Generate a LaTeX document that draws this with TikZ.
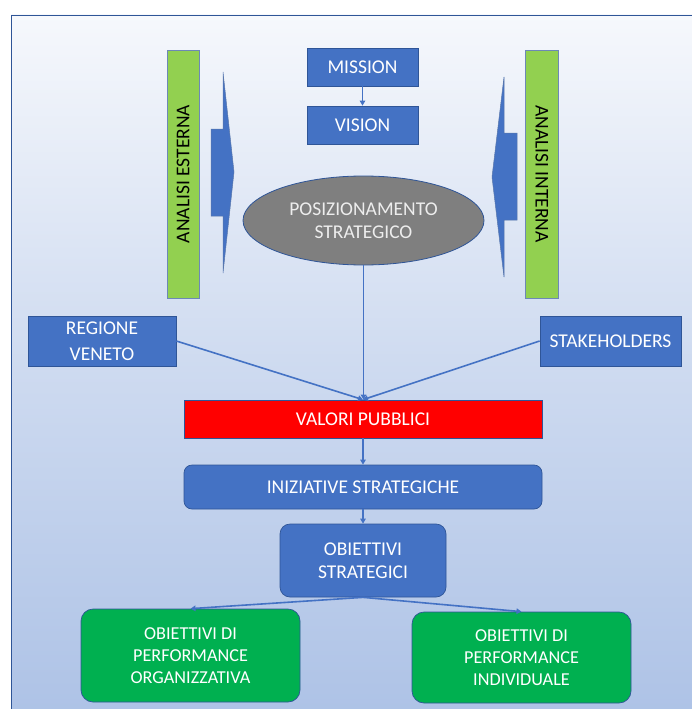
\documentclass[tikz,border=0pt]{standalone}
\usepackage{fontspec}
\setmainfont{Carlito}
\usetikzlibrary{arrows.meta,shapes.geometric}
\definecolor{bluebox}{HTML}{4472C4}
\definecolor{blueedge}{HTML}{2F5597}
\definecolor{greenbar}{HTML}{92D050}
\definecolor{greenbox}{HTML}{00B050}
\definecolor{grayell}{HTML}{7F7F7F}
\definecolor{elltext}{HTML}{EDEDED}
\definecolor{bgtop}{HTML}{F6F8FC}
\definecolor{bgbot}{HTML}{ADC2E6}
\definecolor{redbox}{HTML}{FF0000}

\begin{document}
\begin{tikzpicture}[x=1pt,y=-1pt,
  txt/.style={font=\fontsize{19.5}{26}\selectfont, align=center, inner sep=0pt},
  bluerect/.style={txt, draw=blueedge, line width=0.7pt, fill=bluebox, text=white},
  roundblue/.style={bluerect, rounded corners=8pt},
  bar/.style={txt, draw=blueedge!70, line width=0.7pt, fill=greenbar, text=black,
    minimum width=248pt, minimum height=32pt},
  greenrb/.style={txt, font=\fontsize{18.2}{22}\selectfont, draw=blueedge, line width=0.7pt,
    fill=greenbox, text=white, rounded corners=12pt, minimum width=219pt},
  blockarrow/.style={fill=bluebox, draw=blueedge!80, line width=0.5pt},
  conn/.style={draw=bluebox, line width=1.6pt, -{Triangle[length=5pt,width=5.5pt]}}
]
\useasboundingbox (0,0) rectangle (691,709);

% background panel with vertical gradient
\shade[top color=bgtop, bottom color=bgbot, middle color=bgtop!45!bgbot]
  (11,15) rectangle (700,720);
\draw[blueedge, line width=0.8pt] (11,720) -- (11,15) -- (700,15);

% side analysis bars
\node[bar, rotate=90] (est) at (183,174) {ANALISI ESTERNA};
\node[bar, rotate=-90, minimum height=33pt] (int) at (542,174) {ANALISI INTERNA};

% block arrows pointing toward the centre
\path[blockarrow] (211,129) -- (223,129) -- (223,72) -- (234,172) -- (223,273)
  -- (223,216) -- (211,216) -- cycle;
\path[blockarrow] (517,133) -- (504,133) -- (504,77) -- (492,177) -- (504,277)
  -- (504,220) -- (517,220) -- cycle;

% central column
\node[bluerect, minimum width=111pt, minimum height=38pt] (mission) at (362.5,67) {MISSION};
\node[bluerect, minimum width=111pt, minimum height=38pt] (vision) at (362.5,125) {VISION};
\node[ellipse, txt, draw=blueedge, line width=0.8pt, fill=grayell, text=elltext,
  font=\fontsize{19.5}{23}\selectfont, minimum width=241pt, minimum height=89pt]
  (pos) at (363.5,220.5) {POSIZIONAMENTO\\STRATEGICO};

\node[bluerect, minimum width=148pt, minimum height=50pt] (regione) at (102,341) {REGIONE\\VENETO};
\node[bluerect, minimum width=141pt, minimum height=50pt] (stake) at (610.5,341) {STAKEHOLDERS};

\node[txt, draw=blueedge, line width=0.7pt, fill=redbox, text=white,
  minimum width=358pt, minimum height=38pt] (valori) at (363,419) {VALORI PUBBLICI};
\node[roundblue, minimum width=358pt, minimum height=44pt] (iniz) at (363,487) {INIZIATIVE STRATEGICHE};
\node[roundblue, rounded corners=10pt, font=\fontsize{19.5}{23}\selectfont,
  minimum width=166pt, minimum height=73pt] (obs) at (363,560.5) {OBIETTIVI\\STRATEGICI};

\node[greenrb, minimum height=93pt] (org) at (190.5,655.5) {OBIETTIVI DI\\PERFORMANCE\\ORGANIZZATIVA};
\node[greenrb, minimum height=91pt] (ind) at (521.5,657.5) {OBIETTIVI DI\\PERFORMANCE\\INDIVIDUALE};

% connectors
\draw[conn] (mission) -- (vision);
\draw[conn] (pos.south) -- (pos.south |- valori.north);
\draw[conn] (regione.east) -- (valori.north);
\draw[conn] (stake.west) -- (valori.north);
\draw[conn] (valori) -- (iniz);
\draw[conn] (iniz) -- (obs);
\draw[conn] (obs.south) -- (org.north);
\draw[conn] (obs.south) -- (ind.north);
\end{tikzpicture}
\end{document}
